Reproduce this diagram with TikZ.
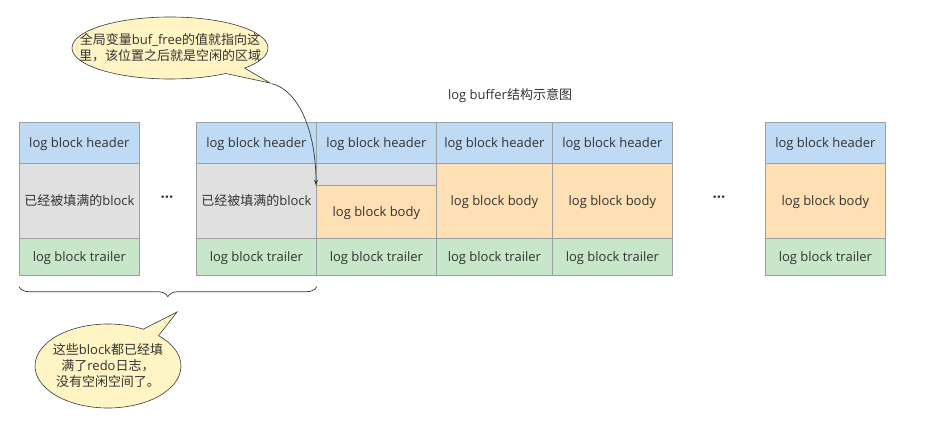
\documentclass[tikz,border=0pt]{standalone}
\usepackage{fontspec}
\setmainfont{Open Sans}
\newfontfamily\cjk{Noto Sans CJK SC}
\usetikzlibrary{arrows.meta, shapes.callouts, decorations.pathreplacing}

\definecolor{hdrblue}{RGB}{190,218,245}
\definecolor{bodyorange}{RGB}{255,224,180}
\definecolor{trailgreen}{RGB}{200,230,201}
\definecolor{fullgray}{RGB}{224,224,224}
\definecolor{celledge}{RGB}{155,160,160}
\definecolor{notefill}{RGB}{255,244,195}
\definecolor{noteedge}{RGB}{54,57,61}
\definecolor{txt}{RGB}{51,51,51}

\begin{document}
\begin{tikzpicture}[
  x = 1pt, y = -1pt,
  every node/.style = {
    font=\fontsize{13}{16}\selectfont,
    text=txt
  },
  cell/.style = {draw=celledge, line width=0.7pt, anchor=north west,
    inner sep=0pt, align=center, minimum width=120pt,
    text height=13pt, text depth=3pt},
  header/.style = {cell, fill=hdrblue, minimum height=41pt},
  trailer/.style = {cell, fill=trailgreen, minimum height=37pt},
  filled/.style = {cell, fill=fullgray, minimum height=75pt},
  logbody/.style = {cell, fill=bodyorange, minimum height=75pt},
  gap/.style = {font=\fontsize{15}{15}\selectfont\bfseries},
  note/.style = {ellipse callout, draw=noteedge, fill=notefill,
    line width=0.6pt, align=center, inner xsep=-30pt, inner ysep=0pt},
  link/.style = {-{Stealth[length=6pt, width=4pt]}, draw=noteedge, line width=0.7pt},
  brace/.style = {decorate, decoration={brace, amplitude=10pt},
    draw=noteedge, line width=0.7pt}
]
\useasboundingbox (0,0) rectangle (945,422);

% title
\node (title) at (510,96) {log buffer{\cjk 结构示意图}};

% headers and trailers of all blocks
\foreach \n/\x/\w in {1/19/120, 2/196/120, 3/316/120, 4/436/116, 5/552/120, 6/765/120} {
  \node[header, minimum width=\w pt] (h\n) at (\x,122) {log block header};
  \node[trailer, minimum width=\w pt] (t\n) at (\x,238) {log block trailer};
}

% bodies
\node[filled] (b1) at (19,163) {{\cjk 已经被填满的}block};
\node[filled] (b2) at (196,163) {{\cjk 已经被填满的}block};
\node[filled, minimum height=22pt] (g3) at (316,163) {};
\node[logbody, minimum height=53pt] (b3) at (316,185) {log block body};
\node[logbody, minimum width=116pt] (b4) at (436,163) {log block body};
\node[logbody] (b5) at (552,163) {log block body};
\node[logbody] (b6) at (765,163) {log block body};

% gaps
\node[gap] (dots1) at (167,199) {···};
\node[gap] (dots2) at (719,199) {···};

% buf_free note
\node[note, minimum width=196pt, minimum height=62pt,
      callout absolute pointer={(270,83)}] (freenote) at (170,48)
  {{\cjk 全局变量}buf\_free{\cjk 的值就指向这}\\{\cjk 里，该位置之后就是空闲的区域}};
\draw[link] (freenote.pointer) .. controls (298,90) and (316,130) .. (g3.south west);

% full blocks
\draw[brace] ([yshift=-11pt]t2.south east) -- ([yshift=-11pt]t1.south west);
\node[note, minimum width=146pt, minimum height=84pt,
      callout absolute pointer={(177,312)}] (fullnote) at (108,366)
  {{\cjk 这些}block{\cjk 都已经填}\\{\cjk 满了}redo{\cjk 日志，}\\{\cjk 没有空闲空间了。}};

\end{tikzpicture}
\end{document}
